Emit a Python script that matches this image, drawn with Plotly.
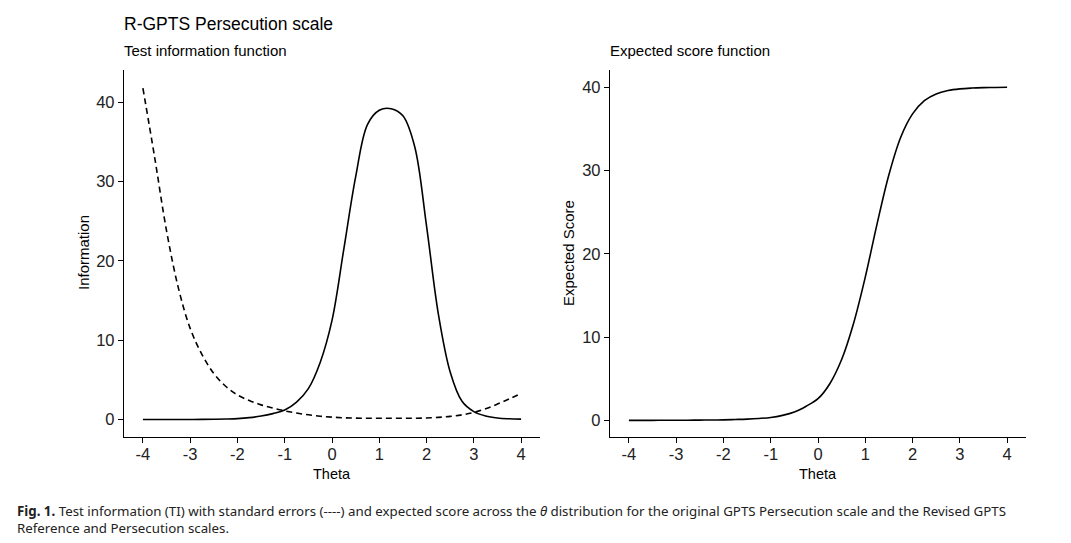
import plotly.graph_objects as go

# ---------------- data ----------------
theta = [-4, -3.75, -3.5, -3.25, -3, -2.75, -2.5, -2.25, -2, -1.75, -1.5, -1.25,
         -1, -0.75, -0.5, -0.25, 0, 0.25, 0.5, 0.75, 1, 1.25, 1.5, 1.75,
         2, 2.25, 2.5, 2.75, 3, 3.25, 3.5, 3.75, 4]

test_information = [0.0, 0.0, 0.0, 0.0, 0.01, 0.02, 0.04, 0.07, 0.12, 0.24, 0.44, 0.75,
                    1.2, 2.2, 3.9, 7.2, 12.5, 21.5, 30.6, 37.2, 39.0, 39.2, 38.3, 34.4,
                    24.4, 13.3, 6.0, 2.3, 1.0, 0.45, 0.2, 0.1, 0.06]

standard_error = [41.8, 33.0, 23.8, 16.6, 11.5, 8.2, 5.8, 4.2, 3.1, 2.4, 1.85, 1.45,
                  1.1, 0.82, 0.6, 0.42, 0.3, 0.22, 0.18, 0.16, 0.16, 0.16, 0.16, 0.17,
                  0.2, 0.28, 0.4, 0.6, 0.9, 1.35, 1.95, 2.6, 3.3]

expected_score = [0.0, 0.0, 0.0, 0.01, 0.01, 0.02, 0.03, 0.04, 0.06, 0.1, 0.15, 0.23,
                  0.35, 0.6, 1.0, 1.7, 2.6, 4.4, 7.3, 11.6, 17.2, 23.6, 29.5, 34.0,
                  36.8, 38.4, 39.2, 39.6, 39.8, 39.9, 39.95, 39.97, 40.0]

x_ticks = [-4, -3, -2, -1, 0, 1, 2, 3, 4]
x_tick_labels = ["-4", "-3", "-2", "-1", "0", "1", "2", "3", "4"]
y_ticks = [0, 10, 20, 30, 40]
y_tick_labels = ["0", "10", "20", "30", "40"]

# ---------------- layout helpers ----------------
W, H = 1071, 543
def fx(px):
    return px / W
def fy(py):
    return 1 - py / H

FONT = "Liberation Sans"
CAP_FONT = "Noto Sans"

fig = go.Figure()
fig.add_trace(go.Scatter(x=theta, y=test_information, mode="lines",
                         line=dict(color="black", width=1.6, shape="spline", smoothing=1.0),
                         xaxis="x", yaxis="y", showlegend=False))
fig.add_trace(go.Scatter(x=theta, y=standard_error, mode="lines",
                         line=dict(color="black", width=1.6, dash="6px,4px", shape="spline", smoothing=1.0),
                         xaxis="x", yaxis="y", showlegend=False))
fig.add_trace(go.Scatter(x=theta, y=expected_score, mode="lines",
                         line=dict(color="black", width=1.6, shape="spline", smoothing=1.0),
                         xaxis="x2", yaxis="y2", showlegend=False))

axis_common = dict(showgrid=False, zeroline=False, showline=True, linecolor="black", linewidth=1.4,
                   ticks="outside", ticklen=5, tickwidth=1.2, tickcolor="black",
                   tickfont=dict(family=FONT, size=16.5, color="#222"))

fig.update_layout(
    width=W, height=H,
    margin=dict(l=0, r=0, t=0, b=0),
    paper_bgcolor="white", plot_bgcolor="white",
    xaxis=dict(domain=[fx(124), fx(540)], range=[-4.4, 4.4], tickvals=x_ticks, ticktext=x_tick_labels,
               anchor="y", ticklabelstandoff=-3, **axis_common),
    yaxis=dict(domain=[fy(437), fy(70)], range=[-2.2, 44.08], tickvals=y_ticks, ticktext=y_tick_labels,
               anchor="x", **axis_common),
    xaxis2=dict(domain=[fx(610), fx(1026)], range=[-4.4, 4.4], tickvals=x_ticks, ticktext=x_tick_labels,
                anchor="y2", ticklabelstandoff=-3, **axis_common),
    yaxis2=dict(domain=[fy(437), fy(70)], range=[-2.0, 42.07], tickvals=y_ticks, ticktext=y_tick_labels,
                anchor="x2", **axis_common),
)

ann = []
def text(x, y, s, size, family=FONT, color="black", xanchor="left", angle=0):
    ann.append(dict(x=fx(x), y=fy(y), xref="paper", yref="paper", text=s, showarrow=False,
                    xanchor=xanchor, yanchor="middle", textangle=angle,
                    font=dict(family=family, size=size, color=color)))

text(122, 24, "R-GPTS Persecution scale", 17.5)
text(122, 51, "Test information function", 15)
text(608, 51, "Expected score function", 15)
text(332, 474, "Theta", 14.5, xanchor="center")
text(818, 474, "Theta", 14.5, xanchor="center")
text(83, 253, "Information", 15, xanchor="center", angle=-90)
text(568, 253, "Expected Score", 15, xanchor="center", angle=-90)
text(15, 511, "<b>Fig. 1.</b> Test information (TI) with standard errors (----) and expected score across the "
              "<i>θ</i> distribution for the original GPTS Persecution scale and the Revised GPTS",
     13.3, family=CAP_FONT, color="#222")
text(15, 528, "Reference and Persecution scales.", 13.3, family=CAP_FONT, color="#222")

fig.update_layout(annotations=ann)
fig.write_html("out.html", config={"displayModeBar": False},
               post_script="document.body.style.margin='0';document.body.style.overflow='hidden';")
